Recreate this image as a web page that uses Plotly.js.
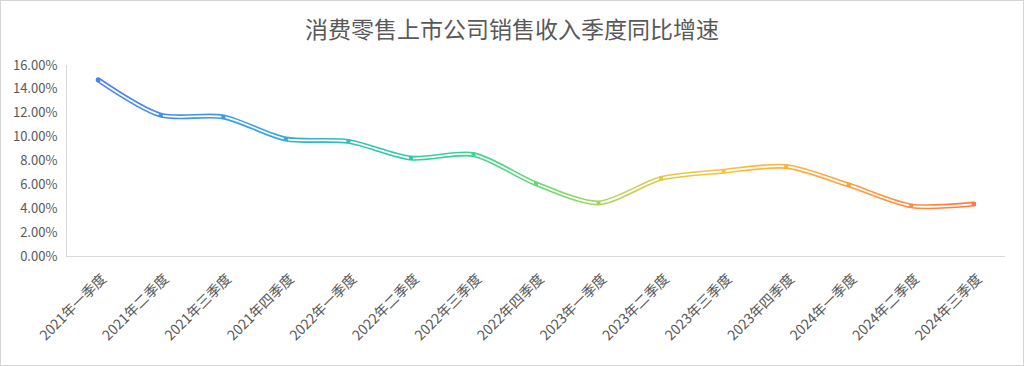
<!DOCTYPE html>
<html>
<head>
<meta charset="utf-8">
<script src="https://cdn.plot.ly/plotly-3.0.1.min.js"></script>
<style>
  html, body { margin: 0; padding: 0; background: #fff; }
  #wrap { position: relative; width: 1024px; height: 366px; }
  #chart { width: 1024px; height: 366px; }
  #frame { position: absolute; left: 0; top: 0; width: 1024px; height: 366px; box-sizing: border-box; border: 1px solid #d4d4d4; pointer-events: none; }
</style>
</head>
<body>
<div id="wrap"><div id="chart"></div><div id="frame"></div></div>
<script>
var categories = ["2021年一季度","2021年二季度","2021年三季度","2021年四季度",
                  "2022年一季度","2022年二季度","2022年三季度","2022年四季度",
                  "2023年一季度","2023年二季度","2023年三季度","2023年四季度",
                  "2024年一季度","2024年二季度","2024年三季度"];
var growth = [14.75, 11.8, 11.65, 9.8, 9.6, 8.2, 8.5, 6.05, 4.45, 6.5, 7.1, 7.5, 5.95, 4.2, 4.35];
var yTicks = [0, 2, 4, 6, 8, 10, 12, 14, 16];

var gradStops = [
  [0.00, "#4a80f5"],
  [0.20, "#3aa6dc"],
  [0.30, "#2cc4b4"],
  [0.45, "#42d68a"],
  [0.52, "#72d86a"],
  [0.58, "#aad65a"],
  [0.65, "#e6c844"],
  [0.72, "#fcc035"],
  [0.80, "#ffae3e"],
  [0.88, "#ff983c"],
  [1.00, "#ff7a40"]
];

function hexToRgb(h) {
  return [parseInt(h.substr(1, 2), 16), parseInt(h.substr(3, 2), 16), parseInt(h.substr(5, 2), 16)];
}
function gradColor(t) {
  for (var i = 1; i < gradStops.length; i++) {
    if (t <= gradStops[i][0]) {
      var a = gradStops[i - 1], b = gradStops[i];
      var f = (t - a[0]) / (b[0] - a[0]);
      var ca = hexToRgb(a[1]), cb = hexToRgb(b[1]);
      return "rgb(" + ca.map(function (v, k) { return Math.round(v + (cb[k] - v) * f); }).join(",") + ")";
    }
  }
  return gradStops[gradStops.length - 1][1];
}
var markerColors = categories.map(function (c, i) { return gradColor(i / (categories.length - 1)); });

var font = "'Noto Sans CJK SC', 'Microsoft YaHei', sans-serif";
var textColor = "#595959";

var traces = [
  { x: categories, y: growth, type: "scatter", mode: "lines",
    line: { shape: "spline", smoothing: 0.8, width: 5, color: "#4a80f5" },
    hoverinfo: "skip" },
  { x: categories, y: growth, type: "scatter", mode: "lines",
    line: { shape: "spline", smoothing: 0.8, width: 1.8, color: "#ffffff" },
    hoverinfo: "skip" },
  { x: categories, y: growth, type: "scatter", mode: "markers",
    marker: { symbol: "square", size: 4, color: markerColors, line: { width: 0 } } }
];

var layout = {
  width: 1024, height: 366,
  margin: { l: 67, r: 19, t: 65, b: 110 },
  paper_bgcolor: "#ffffff", plot_bgcolor: "#ffffff",
  showlegend: false,
  font: { family: font, color: textColor, size: 13 },
  title: { text: "消费零售上市公司销售收入季度同比增速", x: 0.5, xanchor: "center",
           y: 1 - 30 / 366, yref: "container", yanchor: "middle",
           font: { family: font, size: 23, color: textColor } },
  xaxis: { type: "category", range: [-0.5, categories.length - 0.5], automargin: false,
           showgrid: false, zeroline: false, showline: true,
           linecolor: "#d9d9d9", linewidth: 1, ticks: "", tickangle: -45,
           ticklabelstandoff: 8, ticklabelshift: 4,
           tickfont: { size: 14, color: textColor, family: font }, fixedrange: true },
  yaxis: { range: [0, 16], tickvals: yTicks, automargin: false,
           ticktext: yTicks.map(function (v) { return v.toFixed(2) + "%"; }),
           showgrid: false, zeroline: false, showline: true, linecolor: "#d9d9d9",
           linewidth: 1, ticks: "", ticklabelstandoff: 6,
           tickfont: { size: 13, color: textColor, family: font }, fixedrange: true }
};

Plotly.newPlot("chart", traces, layout, { displayModeBar: false, staticPlot: true }).then(function (gd) {
  var xa = gd._fullLayout.xaxis;
  var svgNS = "http://www.w3.org/2000/svg";
  var svg = gd.querySelector("svg.main-svg");
  var defs = svg.querySelector("defs");
  var g = document.createElementNS(svgNS, "linearGradient");
  g.setAttribute("id", "lineGrad");
  g.setAttribute("gradientUnits", "userSpaceOnUse");
  g.setAttribute("x1", xa.l2p(0)); g.setAttribute("x2", xa.l2p(categories.length - 1));
  g.setAttribute("y1", 0); g.setAttribute("y2", 0);
  gradStops.forEach(function (s) {
    var st = document.createElementNS(svgNS, "stop");
    st.setAttribute("offset", s[0]);
    st.setAttribute("stop-color", s[1]);
    g.appendChild(st);
  });
  defs.appendChild(g);
  var tr = gd.querySelectorAll(".scatterlayer .trace");
  var p0 = tr[0].querySelector("path.js-line");
  p0.style.stroke = "url(#lineGrad)";
  p0.style.strokeLinecap = "round";
  var p1 = tr[1].querySelector("path.js-line");
  p1.style.strokeLinecap = "round";
});
</script>
</body>
</html>
